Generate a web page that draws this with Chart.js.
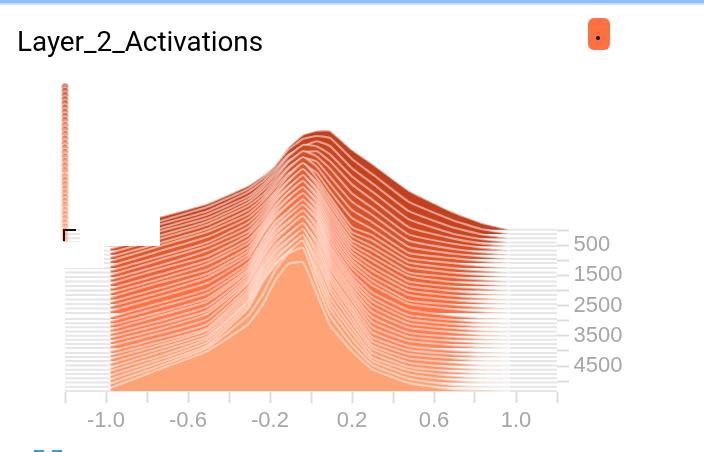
<!DOCTYPE html>
<html><head><meta charset="utf-8">
<style>
html,body{margin:0;padding:0;background:#fff;width:704px;height:452px;overflow:hidden}
#wrap{position:relative;width:704px;height:452px}
canvas{position:absolute;left:0;top:0}
.o{position:absolute}
</style>
</head><body>
<div id="wrap">
<canvas id="c" width="704" height="452"></canvas>
<div class="o" style="left:0;top:0;width:704px;height:3px;background:#8dbcf6"></div>
<div class="o" style="left:0;top:3px;width:704px;height:2px;background:#c3dffb"></div>
<div class="o" style="left:80px;top:190px;width:80px;height:55.5px;background:#fff"></div>
<div class="o" style="left:58px;top:241.5px;width:46px;height:26.5px;background:#fff"></div>
<div class="o" style="left:63px;top:229px;width:13px;height:2.2px;background:#111"></div>
<div class="o" style="left:63px;top:229px;width:2.4px;height:12px;background:#111"></div>
<div class="o" style="left:588px;top:18px;width:22px;height:32px;background:#ff7043;border-radius:6px"></div>
<div class="o" style="left:596px;top:36px;width:4px;height:4px;background:#111;border-radius:50%"></div>
<div class="o" style="left:34px;top:450px;width:10px;height:2px;background:#2f9bf0"></div>
<div class="o" style="left:52px;top:450px;width:10px;height:2px;background:#2f9bf0"></div>
</div>
<script src="https://cdn.jsdelivr.net/npm/chart.js@4"></script>
<script>
const chartTitle = "Layer_2_Activations";
const binCenters = [-0.98,-0.737,-0.507,-0.307,-0.234,-0.176,-0.112,-0.039,0.029,0.093,0.2,0.298,0.478,0.688,0.83,0.971];
const xAxisRange = [-1.2,1.2];
const stepTicks = [0,500,1000,1500,2000,2500,3000,3500,4000,4500,5000];
const stepValues = [-10,130,270,410,540,680,820,960,1093,1258,1407,1556,1705,1854,2003,2152,2301,2450,2599,2748,2947,3084,3221,3358,3495,3632,3769,3907,4073,4205,4338,4480,4622,4764,4906,5048,5190,5331];
const hoverDots = [-4745,-4605,-4465,-4325,-4195,-4055,-3915,-3775,-3642,-3477,-3328,-3179,-3030,-2881,-2732,-2583,-2434,-2285,-2136,-1987,-1788,-1651,-1514,-1377,-1240,-1103,-966,-828,-662,-530,-397,-255,-113,29,171,313,455,596];

const layer00=[3,13,26,44,54,64,82,95,99,99,80,66,39,18,7,0];
const layer01=[3,13,27,45,56,68,84,95,98,96,75,60,32,14,5,0];
const layer02=[3,14,27,46,57,69,83,92,97,92,70,55,27,11,4,0];
const layer03=[2,14,28,46,58,70,86,97.5,96,88,66,51,23,9,3.5,0];
const layer04=[2,15,28,47,59,71,85,94,95,85,62,47,19,8,3,0];
const layer05=[2,15,29,48,60,72,88,99.5,94,82,57,43,16,7,3,0];
const layer06=[2,16,30,49,60,73,87,97,93,78,53,40,14,6,2.5,0];
const layer07=[2,16,30,49,61,74,90,102,92,75,49,37,12,5.5,2.5,0];
const layer08=[2,17,31,49,62,75,89,99,90,72,45,34,10,5,2,0];
const layer09=[2,17,31,50,63,76,92,105,90,71,41,33,10,5,2,0];
const layer10=[2,16,30,50,64,78,91.5,102.5,90.5,71.5,40.5,32,10,4.5,2,0];
const layer11=[2,17,31,50,65,80,95,108,92,72,41,31,10,4.5,2,0];
const layer12=[2,16,31,50,66,82,94.5,105,93,72,41,31,9,4.5,2,0];
const layer13=[2,17,30,51,67,84,98,111,95,73,42,30,10,4,2,0];
const layer14=[2,16,30,51,68,85,98,108.5,96.5,73.5,42.5,30,9,4,2,0];
const layer15=[2,16,31,52,70,87,102,114,98,74,43,29,9,4,1.5,0];
const layer16=[2,17,30,52,72,89,101.5,111.5,99.5,74.5,43.5,29,9,4,1.5,0];
const layer17=[2,16,30,53,74,91,105,117,101,75,44,28,9,4,1.5,0];
const layer18=[2,16,31,54,76,93,104.5,114.5,102.5,75.5,44.5,28,8,4,1.5,0];
const layer19=[2,16,30,55,79,95,108,120,104,76,45,28,9,4,1.5,0];
const layer20=[2,16,30,56,80,97,107.5,119,107,78,46,27,9,3.5,1,0];
const layer21=[2,16,30,57,82,99,111,124,108,78,46,26,8,3.5,1,0];
const layer22=[2,15,29,58,83,100,111,121.5,109.5,78.5,46.5,26,8,3.5,1,0];
const layer23=[2,16,30,60,85,102,115,127,111,79,47,25,8,3.5,1,0];
const layer24=[2,15,29,61,86,103,114,124,111,79,47,24,8,3.5,1,0];
const layer25=[2,15,29,62,88,105,117,129.5,111.5,79.5,47.5,23,7,3,1,0];
const layer26=[2,15,30,63,89,106,116.5,127,112,80,48,22,7,3,1,0];
const layer27=[2,15,29,65,91,107,120,132,112,80,48,21,7,3,1,0];
const layer28=[2,15,29,66,92,108,119,129,112,80,48,21,7,3,1,0];
const layer29=[2,15,29,67,93,109,122,134,112,80,48,20,7,3,1,0];
const layer30=[2,16,31,68,94,110,121,131,111,80,48,20,7,3,0.5,0];
const layer31=[2,17,32,69,96,112,124,136.5,110.5,79.5,47.5,20,7,3,0.5,0];
const layer32=[2,18,33,70,97,113,123.5,134,110,79,47,21,7,2.5,0.5,0];
const layer33=[3,18,35,72,98,114,127,139,108,77,46,21,7,2.5,0.5,0];
const layer34=[3,19,36,73,99,115,126.5,136.5,106.5,75.5,45.5,21,8,2.5,0.5,0];
const layer35=[3,20,37,74,101,117,130,142,105,74,44,22,8,2.5,0.5,0];
const layer36=[3,21,39,71,93,116,133,139,102,71,42,22,8,2,0.5,0];
const layer37=[3,22,40,67,87,110,127,129,97,66,40,22,8,2,1,0];
const layers=[layer00,layer01,layer02,layer03,layer04,layer05,layer06,layer07,layer08,layer09,layer10,layer11,layer12,layer13,layer14,layer15,layer16,layer17,layer18,layer19,layer20,layer21,layer22,layer23,layer24,layer25,layer26,layer27,layer28,layer29,layer30,layer31,layer32,layer33,layer34,layer35,layer36,layer37];

const densityToStep = 33.1;
const colorStops = [[0,[195,63,29]],[8,[222,88,46]],[19,[255,112,67]],[29,[255,136,92]],[37,[255,163,118]]];
function rampColor(i){
  for(let k=1;k<colorStops.length;k++){
    const a=colorStops[k-1],b=colorStops[k];
    if(i<=b[0]){
      const t=(i-a[0])/(b[0]-a[0]);
      return a[1].map((v,j)=>Math.round(v+(b[1][j]-v)*t));
    }
  }
  return colorStops[colorStops.length-1][1];
}
const datasets=[];
layers.forEach((vals,i)=>{
  const step=stepValues[i];
  datasets.push({label:'base'+i,data:xAxisRange.map(x=>({x,y:step})),borderColor:'#e6e6e6',borderWidth:2,pointRadius:0,fill:false,order:200-2*i+1,clip:false});
  const pts=[{x:binCenters[0],y:step}].concat(vals.map((v,j)=>({x:binCenters[j],y:step-v*densityToStep})));
  const c=rampColor(i);
  datasets.push({label:'step'+step,data:pts,borderColor:'rgba(255,255,255,0.5)',borderWidth:2.1,backgroundColor:`rgb(${c.join(',')})`,fill:{value:step},pointRadius:0,tension:0.12,order:200-2*i});
});
datasets.push({label:'dots',data:hoverDots.map(y=>({x:xAxisRange[0],y})),showLine:false,pointRadius:3.6,
  pointBackgroundColor:hoverDots.map((_,i)=>`rgba(${rampColor(i).join(',')},0.62)`),
  pointBorderColor:'rgba(255,255,255,0.5)',pointBorderWidth:1,clip:false,order:0});

const axisFont={family:'"Liberation Sans"',size:22};
new Chart(document.getElementById('c'),{
  type:'line',
  data:{datasets},
  options:{
    responsive:false,animation:false,devicePixelRatio:1,
    layout:{padding:{left:17,right:0,top:0,bottom:0}},
    plugins:{
      legend:{display:false},tooltip:{enabled:false},
      title:{display:true,text:chartTitle,align:'start',color:'#000',font:{family:'Roboto',size:27.8,weight:'normal',lineHeight:1.2},padding:{top:27.5,bottom:18.1}}
    },
    scales:{
      x:{type:'linear',min:xAxisRange[0],max:xAxisRange[1],
        border:{display:false},
        grid:{drawOnChartArea:false,drawTicks:true,tickLength:11,tickColor:'#dddddd',tickWidth:2},
        ticks:{stepSize:0.2,autoSkip:false,maxRotation:0,color:'#a6a6a6',font:axisFont,padding:4.5,
          callback:v=>{const n=Math.round(v*10);return Math.abs(n)%4===2?(n/10).toFixed(1):'';}},
        afterFit:s=>{s.height=60;}},
      y:{type:'linear',position:'right',reverse:true,min:-5000,max:5360,
        border:{display:false},
        grid:{drawOnChartArea:false,drawTicks:true,tickLength:12,tickColor:'#dddddd',tickWidth:2},
        ticks:{autoSkip:false,color:'#a6a6a6',font:axisFont,padding:4.5,crossAlign:'near',
          callback:v=>(v/500)%2===1?String(v):''},
        afterBuildTicks:s=>{s.ticks=stepTicks.map(value=>({value}));},
        afterFit:s=>{s.width=147;}},
      yLeft:{type:'linear',position:'left',display:true,
        border:{display:false},grid:{display:false},ticks:{display:false},
        afterFit:s=>{s.width=48;}}
    }
  }
});
</script>
</body></html>
